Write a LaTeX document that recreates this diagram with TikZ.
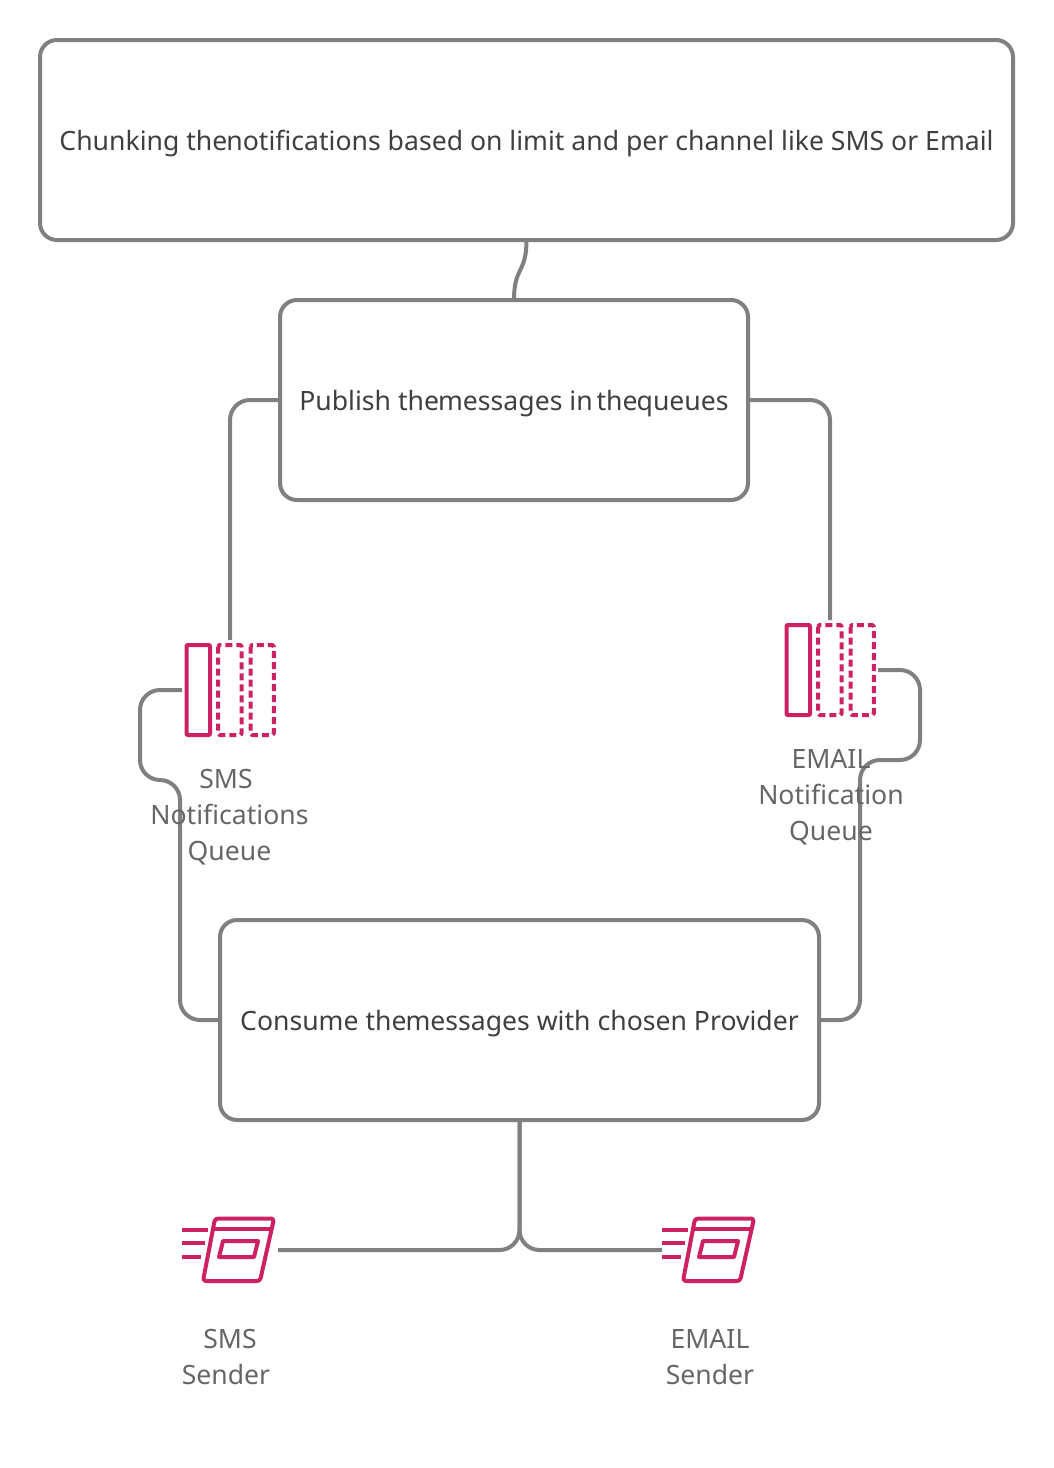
\documentclass[tikz,border=0pt]{standalone}
\usepackage{fontspec}
\setmainfont{Noto Sans}
\definecolor{linegrey}{HTML}{808080}
\definecolor{iconpink}{HTML}{CC2264}
\definecolor{boxtext}{HTML}{3F3F3F}
\definecolor{labeltext}{HTML}{666666}
\tikzset{
  box/.style={draw=linegrey,line width=4pt,rounded corners=17pt,outer sep=0pt,inner sep=0pt,
    text=boxtext,font=\fontsize{26.6}{36}\selectfont,align=center,text height=24pt,text depth=4pt},
  conn/.style={draw=linegrey,line width=4pt,rounded corners=20pt},
  iconslot/.style={inner sep=0pt,outer sep=0pt,minimum width=96pt},
  lbl/.style={text=labeltext,font=\fontsize{26.6}{36}\selectfont,align=center,inner sep=0pt},
  iconline/.style={draw=iconpink,line width=4pt,line join=round},
  dashline/.style={iconline,dash pattern=on 7pt off 4pt,rounded corners=1.5pt}
}
\newcommand{\queueicon}[2]{%
  \begin{scope}[shift={(#1,#2)}]
    \draw[iconline,rounded corners=1pt] (-43.5,-45) rectangle (-20,45);
    \draw[dashline] (-12,-45) rectangle (11.7,45);
    \draw[dashline] (20.5,-45) rectangle (43.8,45);
  \end{scope}}
\newcommand{\sendericon}[2]{%
  \begin{scope}[shift={(#1,#2)}]
    \draw[iconline,rounded corners=3pt] (-15,-31.5) -- (44,-31.5) -- (30,31) -- (-27,31) -- cycle;
    \draw[iconline] (-18,-21) -- (42,-21);
    \draw[iconline] (-7,-9) -- (28,-9) -- (24,7) -- (-11,7) -- cycle;
    \draw[iconline] (-48,-20) -- (-22,-20);
    \draw[iconline] (-48,-7) -- (-25,-7);
    \draw[iconline] (-48,7) -- (-29,7);
  \end{scope}}
\begin{document}
\begin{tikzpicture}[x=1pt,y=-1pt]
  \useasboundingbox (0,0) rectangle (1053,1468);
  \fill[white] (0,0) rectangle (1053,1468);

  \node[box,minimum width=973pt,minimum height=200pt] (chunk) at (526.5,140)
    {Chunking the\hspace{-1pt}notifications based on limit and per channel like SMS or Email};
  \node[box,minimum width=468pt,minimum height=200pt] (publish) at (514,400)
    {Publish the\hspace{-1pt}messages in\hspace{-3pt} the\hspace{-1pt}queues};
  \node[box,minimum width=599pt,minimum height=200pt] (consume) at (519.5,1020)
    {Consume the\hspace{-1pt}messages with chosen Provider};

  \node[iconslot,minimum height=100pt] (smsq) at (230,690) {};
  \node[iconslot,minimum height=100pt] (emailq) at (830,670) {};
  \node[iconslot,minimum height=64pt] (smss) at (230,1250) {};
  \node[iconslot,minimum height=64pt] (emails) at (710,1250) {};

  \queueicon{230}{690}
  \queueicon{830}{670}
  \sendericon{230}{1250}
  \sendericon{710}{1250}

  \draw[draw=linegrey,line width=4pt] (chunk.south) .. controls +(0,34) and +(-0,-34) .. (publish.north);
  \draw[conn] (publish.west) -| (smsq.north);
  \draw[conn] (publish.east) -| (emailq.north);
  \draw[conn] (smsq.west) -- ++(-42,0) -- ++(0,90) -- ++(40,0) |- (consume.west);
  \draw[conn] (emailq.east) -- ++(42,0) -- ++(0,90) -- ++(-60,0) |- (consume.east);
  \draw[conn] (consume.south) |- (smss.east);
  \draw[conn] (consume.south) |- (emails.west);

  \node[lbl] (smsqlabel) at (229.5,817) {\mbox{SMS\kern7pt}\\Notifications\\Queue};
  \node[lbl] (emailqlabel) at (831,797) {EMAIL\\Notification\\Queue};
  \node[lbl] (smsslabel) at (228,1357) {\mbox{\kern4pt SMS}\\\mbox{Sender\kern4pt}};
  \node[lbl] (emailslabel) at (710,1357) {EMAIL\\Sender};
\end{tikzpicture}
\end{document}
